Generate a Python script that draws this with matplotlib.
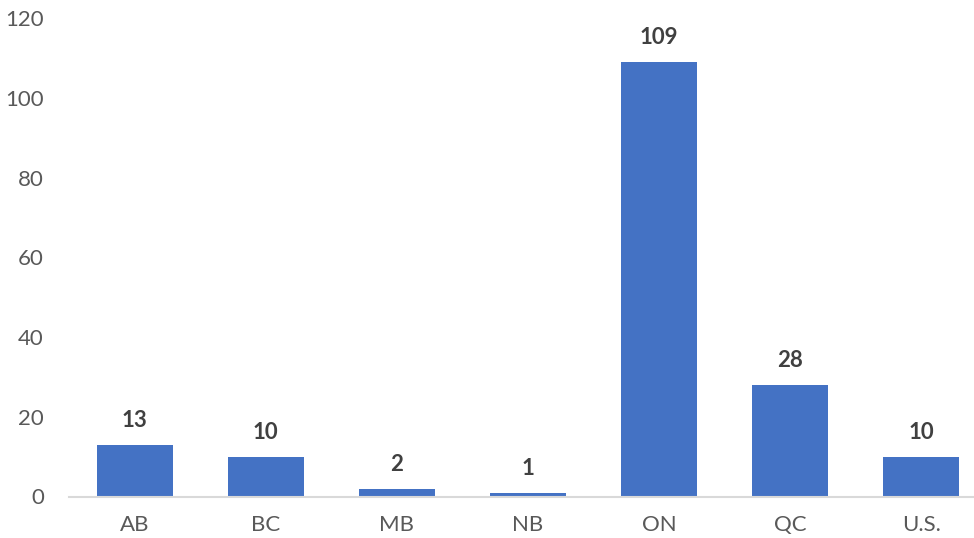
import numpy as np
import matplotlib.pyplot as plt

provinces = ["AB", "BC", "MB", "NB", "ON", "QC", "U.S."]
counts = [13, 10, 2, 1, 109, 28, 10]
yticks = [0, 20, 40, 60, 80, 100, 120]

W, H = 974, 538
fig = plt.figure(figsize=(W / 100, H / 100), dpi=100)
plt.rcParams["font.family"] = ["Lato", "DejaVu Sans"]

left, right = 69, 986.7
bottom, top = 496.5, 18
ax = fig.add_axes([left / W, (H - bottom) / H, (right - left) / W, (bottom - top) / H])

x = np.arange(len(provinces))
bars = ax.bar(x, counts, width=0.58, color="#4472C4", zorder=2)
for xi, v in zip(x, counts):
    ax.annotate(str(v), (xi, v), xytext=(0, 10), textcoords="offset points",
                ha="center", va="bottom", fontsize=16, fontweight="bold", color="#404040")

ax.set_xlim(-0.5, len(provinces) - 0.5)
ax.set_ylim(0, 120)
ax.set_yticks(yticks)
ax.set_xticks(x)
ax.set_xticklabels(provinces)
ax.tick_params(axis="both", length=0, labelsize=16, colors="#595959")
ax.tick_params(axis="y", pad=18)
ax.tick_params(axis="x", pad=13)
for s in ["top", "right", "left"]:
    ax.spines[s].set_visible(False)
ax.spines["bottom"].set_color("#D9D9D9")
ax.spines["bottom"].set_linewidth(1.5)

fig.savefig("out.png", dpi=100, facecolor="white")
